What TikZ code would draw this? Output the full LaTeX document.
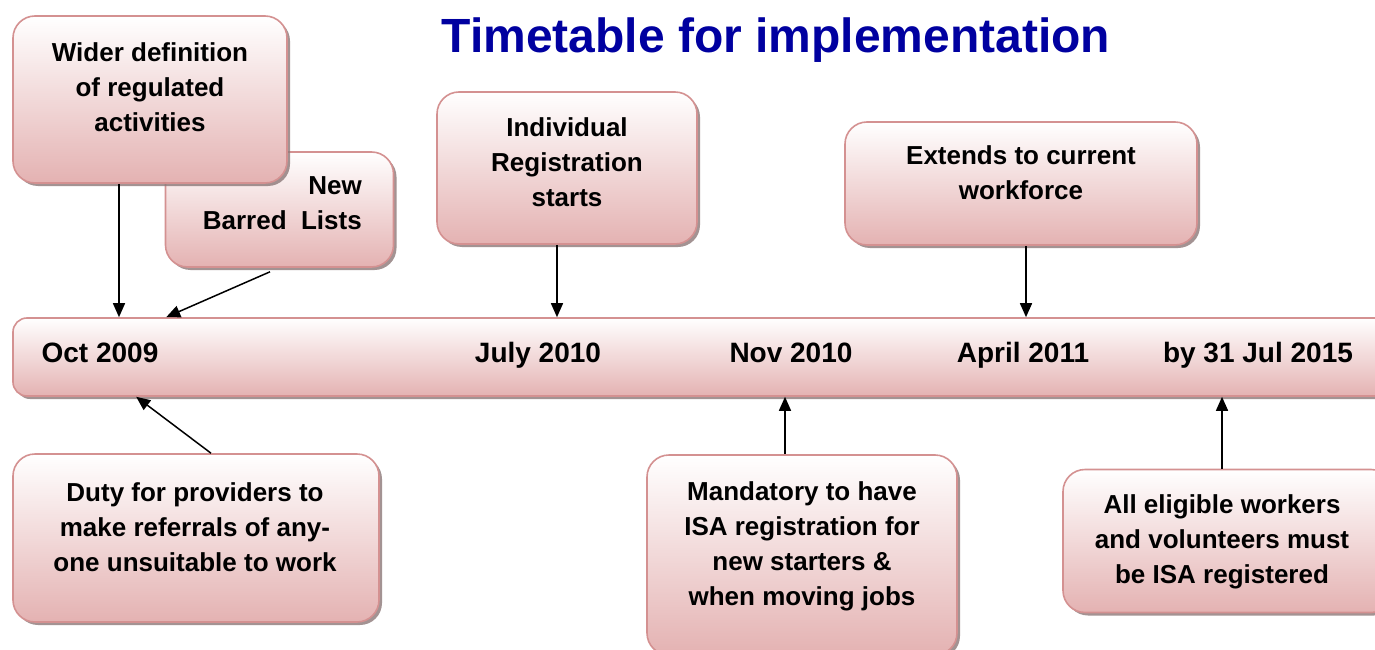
\documentclass[tikz,border=0pt]{standalone}
\usepackage{fontspec}
\setmainfont{Liberation Sans}
\usetikzlibrary{arrows.meta,shadows}
\definecolor{pinkB}{RGB}{228,178,178}
\definecolor{pinkEdge}{RGB}{212,145,145}
\definecolor{shadowC}{RGB}{140,120,120}
\definecolor{titleblue}{RGB}{0,0,160}
\tikzset{
  box/.style={rectangle, rounded corners=22pt, draw=pinkEdge, line width=1.6pt,
    top color=white, bottom color=pinkB, inner sep=0pt,
    drop shadow={shadow xshift=3pt, shadow yshift=-3pt, fill=shadowC, opacity=0.8}},
  barbox/.style={box, rounded corners=14pt},
  txt/.style={font=\bfseries\fontsize{26}{35}\selectfont, align=center, inner sep=0pt, text=black},
  datetxt/.style={font=\bfseries\fontsize{28}{34}\selectfont, inner sep=0pt, text=black, anchor=base},
  arr/.style={line width=1.5pt, -{Triangle[length=14pt,width=12pt]}}
}
\begin{document}
\begin{tikzpicture}[x=1pt,y=-1pt]
\useasboundingbox (0,0) rectangle (1375,650);
\clip (0,0) rectangle (1375,650);
\fill[white] (0,0) rectangle (1375,650);
% title
\node[font=\bfseries\fontsize{48}{56}\selectfont, text=titleblue, inner sep=0pt] (title) at (776,40) {Timetable for implementation};
% top boxes
\node[box, minimum width=228pt, minimum height=115pt] (barred) at (279.5,209.5) {};
\node[txt, align=right, anchor=east] (barredtxt) at (362,203) {New\\Barred\ \ Lists};
\node[box, minimum width=274pt, minimum height=167pt] (wider) at (150,99.5) {};
\node[txt] (widertxt) at (150,87) {Wider definition\\of regulated\\activities};
\node[box, minimum width=260pt, minimum height=152pt] (indiv) at (567,168) {};
\node[txt] (indivtxt) at (567,162) {Individual\\Registration\\starts};
\node[box, minimum width=352pt, minimum height=123pt] (ext) at (1021,183.5) {};
\node[txt] (exttxt) at (1021,173) {Extends to current\\workforce};
% timeline bar
\node[barbox, minimum width=1390pt, minimum height=78pt] (bar) at (708,357) {};
\node[datetxt] (d1) at (100,362) {Oct 2009};
\node[datetxt] (d2) at (538,362) {July 2010};
\node[datetxt] (d3) at (791,362) {Nov 2010};
\node[datetxt] (d4) at (1023,362) {April 2011};
\node[datetxt] (d5) at (1258,362) {by 31 Jul 2015};
% bottom boxes
\node[box, minimum width=366pt, minimum height=168pt] (duty) at (196,538) {};
\node[txt] (dutytxt) at (195,527) {Duty for providers to\\make referrals of any-\\one unsuitable to work};
\node[box, minimum width=310pt, minimum height=200pt] (mand) at (802,555) {};
\node[txt] (mandtxt) at (802,546) {Mandatory to have\\ISA registration for\\new starters \&\\when moving jobs};
\node[box, minimum width=330pt, minimum height=143pt] (all) at (1228,541) {};
\node[txt] (alltxt) at (1222,542) {All eligible workers\\and volunteers must\\be ISA registered};
% arrows
\draw[arr] ([xshift=-31pt]wider.south) -- ([xshift=-31pt]wider.south |- bar.north);
\draw[arr] ([xshift=-9.5pt,yshift=-4pt]barred.south) -- ([xshift=154pt]bar.north west);
\draw[arr] ([xshift=-10pt]indiv.south) -- ([xshift=-10pt]indiv.south |- bar.north);
\draw[arr] ([xshift=5pt]ext.south) -- ([xshift=5pt]ext.south |- bar.north);
\draw[arr] ([xshift=15pt]duty.north) -- ([xshift=124pt]bar.south west);
\draw[arr] ([xshift=-17pt]mand.north) -- ([xshift=-17pt]mand.north |- bar.south);
\draw[arr] ([xshift=-6pt]all.north) -- ([xshift=-6pt]all.north |- bar.south);
\end{tikzpicture}
\end{document}
